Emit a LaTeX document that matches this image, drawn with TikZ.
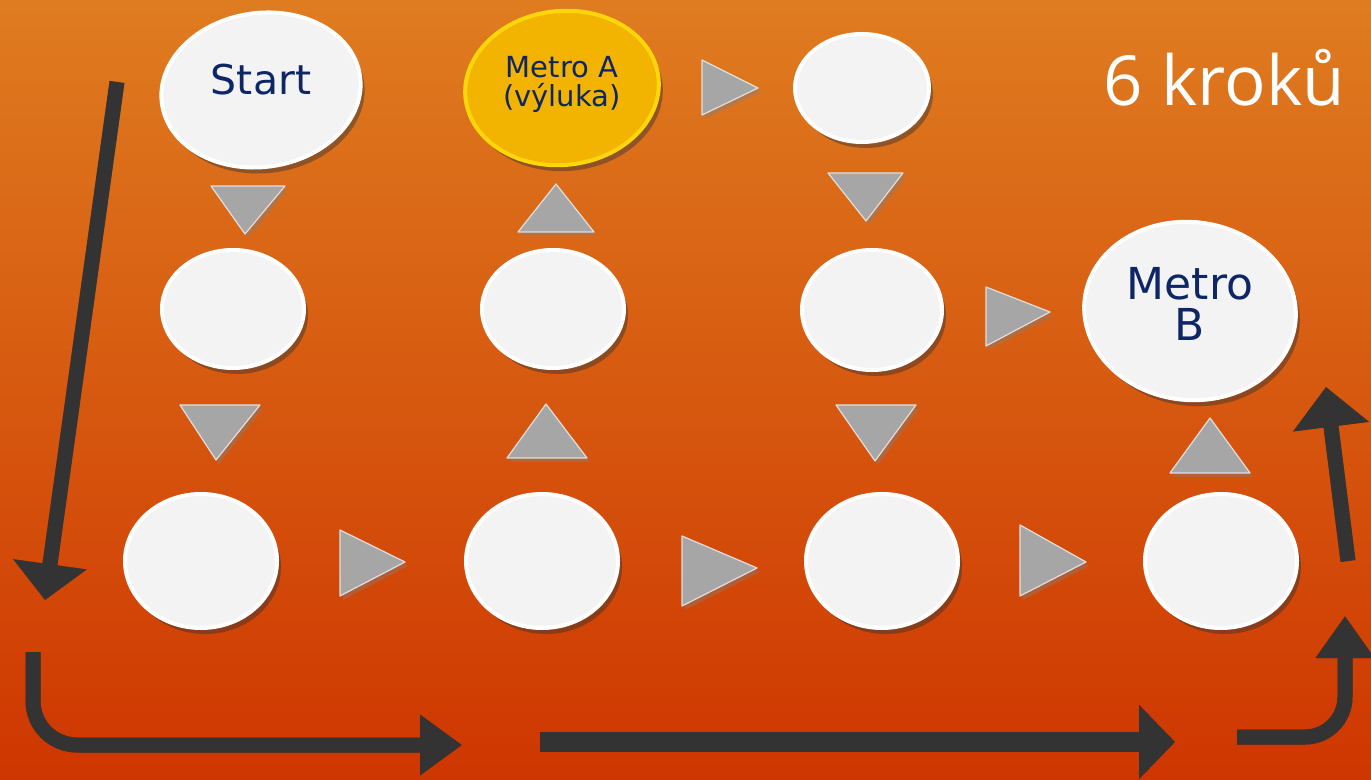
\documentclass[tikz,border=0pt]{standalone}
\usepackage{fontspec}
\setmainfont{DejaVu Sans}
\newfontfamily\krokfont{Open Sans}
\usetikzlibrary{shapes.geometric,shadows,arrows.meta}
\definecolor{navy}{RGB}{14,38,102}
\definecolor{discface}{RGB}{243,243,243}
\definecolor{yelface}{RGB}{242,180,0}
\definecolor{yelrim}{RGB}{255,214,10}
\definecolor{trigray}{RGB}{166,166,166}
\definecolor{arrdark}{RGB}{51,51,51}
\definecolor{bgtop}{RGB}{223,124,32}
\definecolor{bgmid}{RGB}{214,86,18}
\definecolor{bgbot}{RGB}{206,54,0}
\newcommand\bigarrow[2][]{%
  \draw[darr,#1,draw=black,opacity=0.35,shift={(3,6)}] #2;
  \draw[darr,#1] #2;}
\begin{document}
\begin{tikzpicture}[x=0.5pt,y=-0.5pt,
  disc/.style={ellipse, fill=discface, draw=white, line width=2pt, inner sep=0pt,
    drop shadow={shadow xshift=2pt, shadow yshift=-3pt, opacity=0.45, fill=black!80}},
  ydisc/.style={disc, fill=yelface, draw=yelrim},
  lbl/.style={text=navy, align=center, inner sep=0pt},
  tri/.style={fill=trigray, draw=gray!25, line width=0.6pt, line join=round,
    drop shadow={shadow xshift=1.5pt, shadow yshift=-2pt, opacity=0.4}},
  darr/.style={draw=arrdark, line width=7.5pt}
]
\useasboundingbox (0,0) rectangle (1371,780);
\shade[top color=bgtop, middle color=bgmid, bottom color=bgbot] (0,0) rectangle (1371,780);

% discs
\node[disc, minimum width=100pt, minimum height=77pt, rotate=8] (start) at (261,90) {};
\node[ydisc, minimum width=97pt, minimum height=77pt, rotate=6] (metroa) at (562,88) {};
\node[disc, minimum width=67pt, minimum height=54pt] (top3) at (862,88) {};
\node[disc, minimum width=71pt, minimum height=59pt] (m1) at (233,309) {};
\node[disc, minimum width=71pt, minimum height=59pt] (m2) at (553,309) {};
\node[disc, minimum width=70pt, minimum height=60pt] (m3) at (872,310) {};
\node[disc, minimum width=106pt, minimum height=89pt, rotate=-6] (metrob) at (1190,311) {};
\node[disc, minimum width=76pt, minimum height=67pt] (b1) at (201,561) {};
\node[disc, minimum width=76pt, minimum height=67pt] (b2) at (542,561) {};
\node[disc, minimum width=76pt, minimum height=67pt] (b3) at (882,561) {};
\node[disc, minimum width=76pt, minimum height=67pt] (b4) at (1221,561) {};

% labels
\node[lbl, font=\fontsize{20.5pt}{24pt}\selectfont] (starttxt) at (261,80) {Start};
\node[lbl, font=\fontsize{14.5pt}{14.5pt}\selectfont] (metroatxt) at (562,84) {Metro A\\(výluka)};
\node[lbl, font=\fontsize{22pt}{20.5pt}\selectfont] (metrobtxt) at (1190,304) {Metro\\B};
\node[text=white, inner sep=0pt, anchor=base east, font=\krokfont\fontsize{34.5pt}{40pt}\selectfont] (kroku) at (1345,106) {6 kroků};

% grey triangles
\fill[tri] (211,186) -- (285,186) -- (245,234) -- cycle;
\fill[tri] (180,405) -- (260,405) -- (216,460) -- cycle;
\fill[tri] (518,232) -- (594,232) -- (556,184) -- cycle;
\fill[tri] (507,458) -- (587,458) -- (546,404) -- cycle;
\fill[tri] (702,60) -- (702,115) -- (758,88) -- cycle;
\fill[tri] (828,173) -- (903,173) -- (866,221) -- cycle;
\fill[tri] (986,287) -- (986,346) -- (1050,312) -- cycle;
\fill[tri] (836,405) -- (916,405) -- (875,461) -- cycle;
\fill[tri] (1170,473) -- (1250,473) -- (1210,418) -- cycle;
\fill[tri] (340,530) -- (340,596) -- (405,562) -- cycle;
\fill[tri] (682,536) -- (682,606) -- (757,568) -- cycle;
\fill[tri] (1020,525) -- (1020,596) -- (1086,562) -- cycle;

% dark arrows
\coordinate (la1) at (117,82);
\coordinate (la2) at (45,600);
\coordinate (ba1) at (33,652);
\coordinate (ba2) at (33,745);
\coordinate (ba3) at (462,745);
\coordinate (ma1) at (540,742);
\coordinate (ma2) at (1175,742);
\coordinate (ra1) at (1237,737);
\coordinate (ra2) at (1345,737);
\coordinate (ra3) at (1345,616);
\coordinate (ua1) at (1348,561);
\coordinate (ua2) at (1326,387);

\bigarrow[-{Triangle[width=36pt,length=18pt]}]{(la1) -- (la2)}
\bigarrow[-{Triangle[width=29pt,length=21pt]}, rounded corners=22pt]{(ba1) -- (ba2) -- (ba3)}
\bigarrow[line width=10pt, -{Triangle[width=36pt,length=18pt]}]{(ma1) -- (ma2)}
\bigarrow[-{Triangle[width=28pt,length=21pt]}, rounded corners=20pt]{(ra1) -- (ra2) -- (ra3)}
\bigarrow[-{Triangle[width=37pt,length=20pt]}]{(ua1) -- (ua2)}
\end{tikzpicture}
\end{document}
